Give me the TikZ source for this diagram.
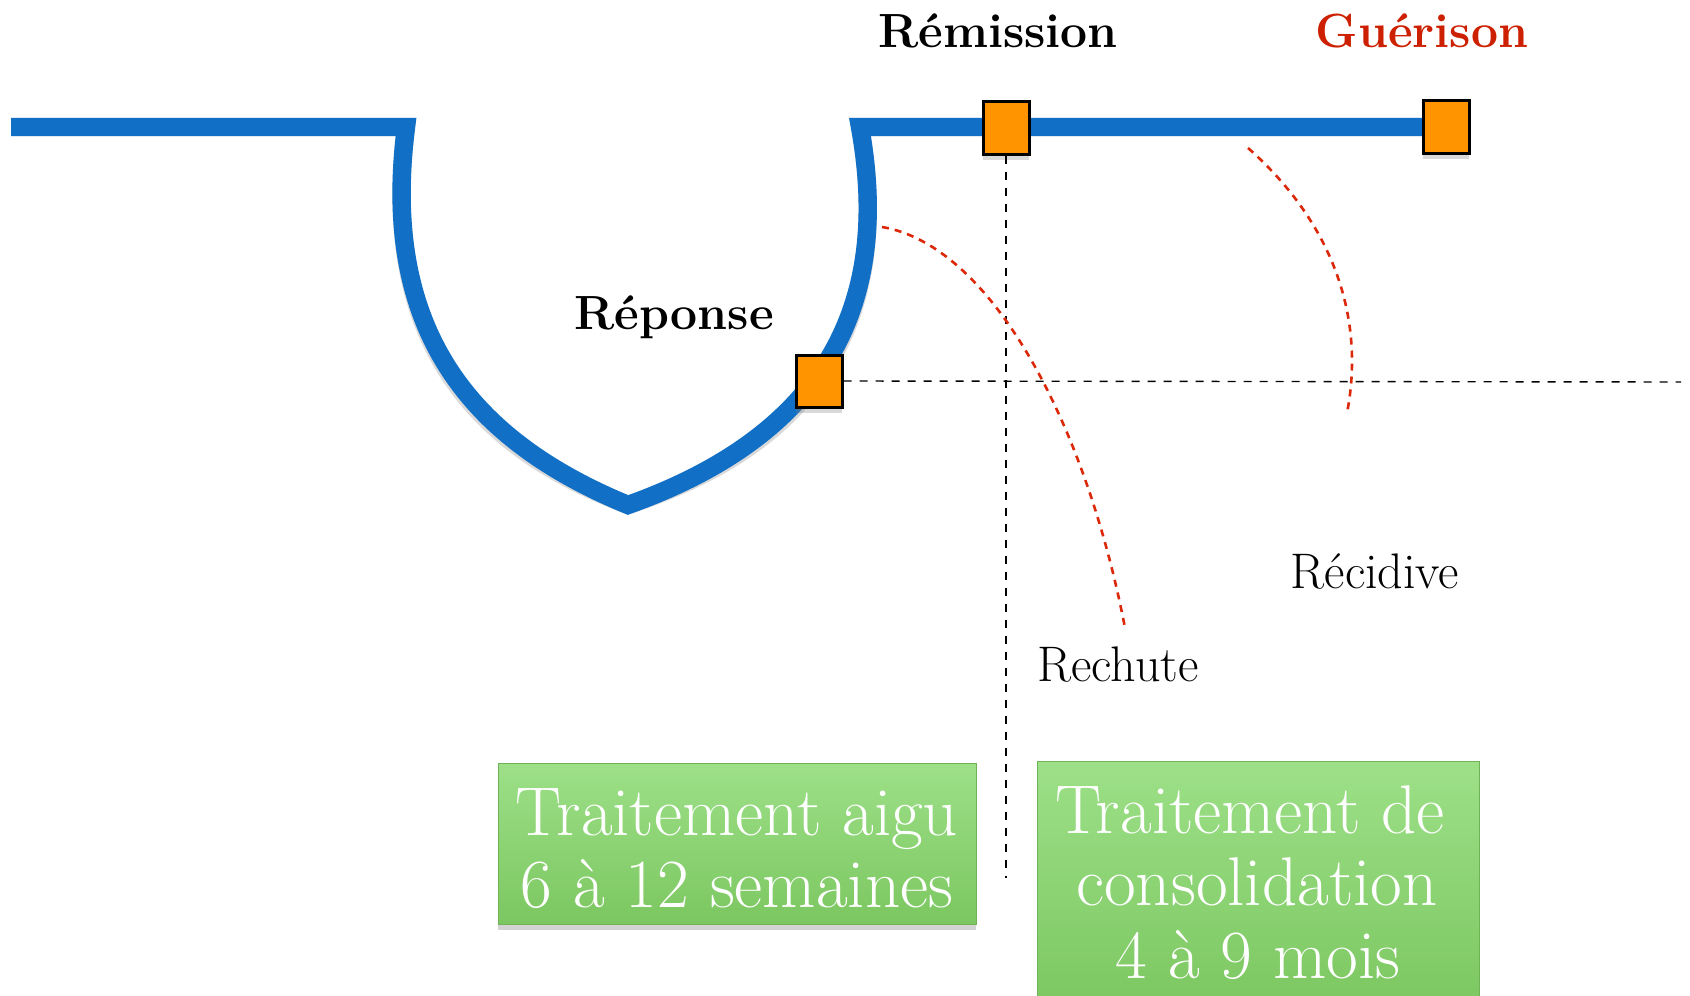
\documentclass[tikz,border=0pt]{standalone}
\usepackage{fontspec}
\usetikzlibrary{shadows}
\definecolor{bleucourbe}{RGB}{17,112,198}
\definecolor{orangejalon}{RGB}{255,148,0}
\definecolor{rougeguer}{RGB}{204,32,0}
\definecolor{rougepointille}{RGB}{220,40,10}
\definecolor{vertclair}{RGB}{157,224,136}
\definecolor{vertfonce}{RGB}{124,199,97}
\tikzset{
  courbe/.style={draw=bleucourbe, line width=9.2pt, line join=miter},
  ombrecourbe/.style={draw=black, opacity=.15, line width=9.2pt, yshift=-3pt},
  jalon/.style={draw=black, line width=1.5pt, fill=orangejalon, minimum width=23pt, minimum height=26pt, inner sep=0pt,
    drop shadow={shadow xshift=0pt, shadow yshift=-3pt, opacity=.3}},
  repere/.style={draw=black, line width=.7pt, dash pattern=on 4pt off 4pt},
  rechute/.style={draw=rougepointille, line width=1.3pt, dash pattern=on 3.5pt off 3pt},
  etape/.style={font=\fontsize{24pt}{28pt}\selectfont\bfseries, inner sep=0pt, anchor=base},
  evenement/.style={font=\fontsize{25pt}{30pt}\selectfont, inner sep=0pt, anchor=base},
  vert/.style={top color=vertclair, bottom color=vertfonce, draw=vertfonce!90!black, line width=.4pt, inner sep=0pt,
    drop shadow={shadow xshift=0pt, shadow yshift=-3pt, opacity=.35}},
  blanc/.style={text=white, font=\fontsize{34.5pt}{40pt}\selectfont, inner sep=0pt, anchor=base}
}
\begin{document}
\begin{tikzpicture}[x=0.5pt,y=-0.5pt]
\useasboundingbox (0,0) rectangle (1690,995);
\coordinate (debut) at (11,127);
\coordinate (angle) at (406,127);
\coordinate (pointe) at (628,505);
\coordinate (retour) at (860,127);
\coordinate (fin) at (1446,127);
\draw[ombrecourbe] (debut) -- (angle) .. controls (380,330) and (470,440) .. (pointe) .. controls (810,440) and (895,320) .. (retour) -- (fin);
\draw[courbe] (debut) -- (angle) .. controls (380,330) and (470,440) .. (pointe) .. controls (810,440) and (895,320) .. (retour) -- (fin);

\node[jalon] (rep) at (819,381) {};
\node[jalon] (rem) at (1006,128) {};
\node[jalon] (guer) at (fin) {};

\coordinate (basrem) at (1006,878);
\coordinate (droite) at (1681,382);
\draw[repere] (rem.south) -- (basrem);
\draw[repere] (rep.east) -- (droite);

\coordinate (rch1) at (882,227);
\coordinate (rch2) at (1125,628);
\coordinate (rcd1) at (1248,148);
\coordinate (rcd2) at (1347,413);
\draw[rechute] (rch1) .. controls (990,245) and (1085,420) .. (rch2);
\draw[rechute] (rcd1) .. controls (1335,225) and (1365,320) .. (rcd2);

\node[etape] (txtrem) at (998,48) {Rémission};
\node[etape, text=rougeguer] (txtguer) at (1422,48) {Guérison};
\node[etape] (txtrep) at (674,329) {Réponse};
\node[evenement] (txtrch) at (1118,681) {Rechute};
\node[evenement] (txtrcd) at (1375,588) {Récidive};

\node[vert, minimum width=239pt, minimum height=80.5pt] (aigu) at (737,843.5) {};
\node[blanc] (aigu1) at (737,835) {Traitement aigu};
\node[blanc] (aigu2) at (737,907) {6 à 12 semaines};

\node[vert, minimum width=221pt, minimum height=125pt] (conso) at (1258,886) {};
\node[blanc] (conso1) at (1250,833) {Traitement de};
\node[blanc] (conso2) at (1257,905) {consolidation};
\node[blanc] (conso3) at (1258,978) {4 à 9 mois};
\end{tikzpicture}
\end{document}
